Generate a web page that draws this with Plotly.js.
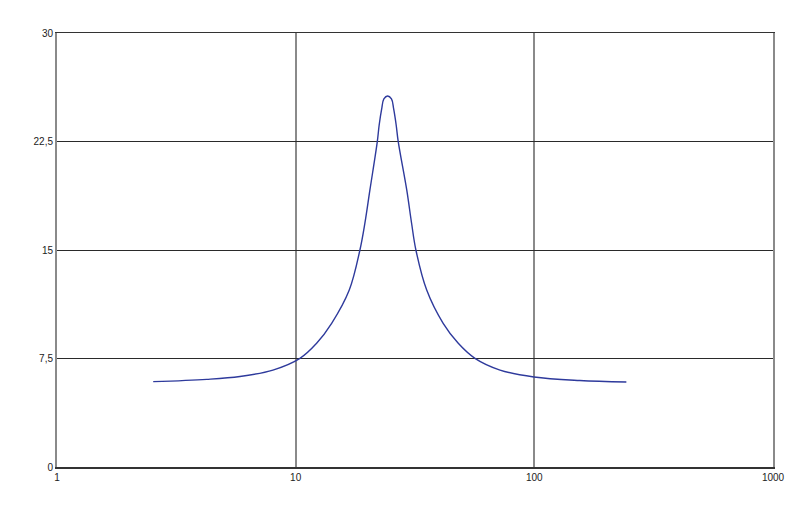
<!DOCTYPE html>
<html>
<head>
<meta charset="utf-8">
<script src="https://cdn.plot.ly/plotly-3.0.1.min.js"></script>
<style>html,body{margin:0;padding:0;background:#fff;}#chart{width:800px;height:513px;}</style>
</head>
<body>
<div id="chart"></div>
<script>
// Frequency (log scale) and response values
var freq = [2.53, 4.24, 5.84, 8.03, 10.42, 12.24, 14.15, 16.77, 18.59, 19.5, 20.47, 21.98, 22.38, 22.93, 23.42, 24.28, 25.2, 25.74, 26.37, 26.9, 29.2, 30.6, 31.9, 35.4, 41.5, 48.0, 56.4, 71.8, 99.6, 155, 243];
var resp = [5.90, 6.06, 6.26, 6.70, 7.51, 8.55, 9.93, 12.23, 15.0, 16.85, 19.15, 22.49, 23.64, 24.75, 25.44, 25.65, 25.44, 24.75, 23.64, 22.49, 19.15, 16.85, 15.0, 12.23, 9.93, 8.55, 7.51, 6.70, 6.22, 5.98, 5.88];
var yTickVals = [0, 7.5, 15, 22.5, 30];
var yTickText = ["0", "7,5", "15", "22,5", "30"];
var xTickVals = [1, 10, 100, 1000];
var xTickText = ["1", "10", "100", "1000"];

var trace = {
  x: freq, y: resp, type: 'scatter', mode: 'lines',
  line: {color: '#2E3A9C', width: 1.4, shape: 'spline', smoothing: 1},
  hoverinfo: 'none'
};
var layout = {
  width: 800, height: 513,
  margin: {l: 57, r: 27, t: 33, b: 46, pad: 0},
  paper_bgcolor: '#ffffff', plot_bgcolor: '#ffffff',
  showlegend: false,
  separators: ',.',
  font: {family: 'Liberation Sans, Arial, sans-serif', size: 10, color: '#222'},
  xaxis: {
    type: 'log', range: [0, 3],
    tickvals: xTickVals, ticktext: xTickText,
    showgrid: true, gridcolor: '#8a8a8a', gridwidth: 2,
    showline: true, linecolor: '#333333', linewidth: 1.5, mirror: true,
    ticks: '', ticklen: 0, zeroline: false,
    tickfont: {size: 10, color: '#222'}
  },
  yaxis: {
    range: [0, 30],
    tickvals: yTickVals, ticktext: yTickText,
    showgrid: true, gridcolor: '#2a2a2a', gridwidth: 1,
    showline: true, linecolor: '#8a8a8a', linewidth: 2, mirror: true,
    ticks: '', zeroline: false,
    tickfont: {size: 10, color: '#222'}
  }
};
Plotly.newPlot('chart', [trace], layout, {staticPlot: true, displayModeBar: false});
</script>
</body>
</html>
